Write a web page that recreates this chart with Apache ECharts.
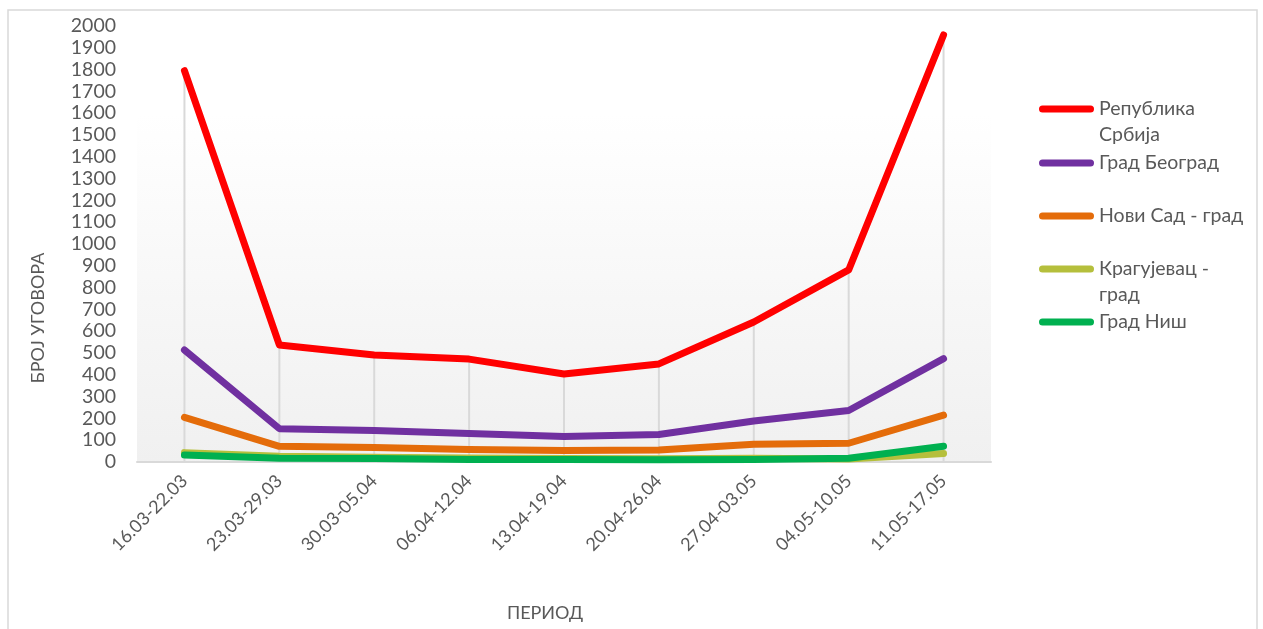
<!DOCTYPE html>
<html>
<head>
<meta charset="utf-8">
<script src="https://cdn.jsdelivr.net/npm/echarts@6/dist/echarts.min.js"></script>
<style>
  html, body { margin: 0; padding: 0; background: #fff; }
  #chart { width: 1263px; height: 629px; }
</style>
</head>
<body>
<div id="chart"></div>
<script>
const periods = ['16.03-22.03', '23.03-29.03', '30.03-05.04', '06.04-12.04', '13.04-19.04',
  '20.04-26.04', '27.04-03.05', '04.05-10.05', '11.05-17.05']
const srbija = [1795, 537, 491, 472, 404, 450, 642, 881, 1959]
const beograd = [514, 153, 144, 131, 117, 126, 188, 236, 474]
const noviSad = [205, 72, 66, 57, 53, 55, 81, 86, 215]
const kragujevac = [43, 26, 22, 18, 16, 15, 17, 14, 39]
const nis = [32, 17, 16, 11, 11, 10, 11, 17, 72]
const names = ['Република Србија', 'Град Београд', 'Нови Сад - град', 'Крагујевац - град', 'Град Ниш']
const legendLabels = ['Република\nСрбија', 'Град Београд', 'Нови Сад - град', 'Крагујевац -\nград', 'Град Ниш']
const colors = ['#ff0000', '#7030a0', '#e46c0a', '#b5bf3c', '#00b050']

const font = 'Lato'
const textColor = '#595959'
const values = [srbija, beograd, noviSad, kragujevac, nis]

// icon centre y for each legend row
const legendRows = [109, 163, 216, 269, 322]
const capsule = 'path://M3.5,0 L51.5,0 A3.5,3.5 0 0 1 51.5,7 L3.5,7 A3.5,3.5 0 0 1 3.5,0 Z'
const legends = names.map((name, i) => {
  const twoLines = legendLabels[i].indexOf('\n') >= 0
  return {
    orient: 'vertical',
    left: 1039,
    top: legendRows[i] - (twoLines ? 39 : 13),
    padding: 0,
    itemWidth: 55,
    itemHeight: 7,
    icon: capsule,
    itemStyle: { borderWidth: 0 },
    data: [name],
    // an empty first line keeps the icon level with the first text line
    formatter: () => (twoLines ? '\u00a0\n' : '') + legendLabels[i],
    textStyle: {
      fontFamily: font,
      fontSize: 19.5,
      color: textColor,
      lineHeight: 26
    }
  }
})

const lineSeries = names.map((name, i) => ({
  name: name,
  type: 'line',
  data: values[i],
  symbol: 'none',
  z: 3 + i,
  lineStyle: { width: 7, color: colors[i], cap: 'round', join: 'round' },
  itemStyle: { color: colors[i] }
}))

const chart = echarts.init(document.getElementById('chart'))
const option = {
  animation: false,
  legend: legends,
  graphic: [{
    type: 'rect',
    shape: { x: 8, y: 10, width: 1249, height: 640 },
    style: { fill: 'none', stroke: '#d9d9d9', lineWidth: 1.5 },
    silent: true
  }],
  grid: {
    left: 137,
    right: 272,
    top: 26,
    bottom: 167,
    show: true,
    borderWidth: 0,
    backgroundColor: new echarts.graphic.LinearGradient(0, 0, 0, 1, [
      { offset: 0, color: '#ffffff' },
      { offset: 0.2, color: '#ffffff' },
      { offset: 1, color: '#f0f0f0' }
    ])
  },
  xAxis: {
    type: 'category',
    data: periods,
    boundaryGap: true,
    name: 'ПЕРИОД',
    nameLocation: 'middle',
    nameGap: 142,
    nameTextStyle: { fontFamily: font, fontSize: 18, color: textColor, padding: [0, 38, 0, 0] },
    axisLine: { lineStyle: { color: '#d9d9d9', width: 2 } },
    axisTick: { show: false },
    axisLabel: {
      rotate: 45,
      margin: 16,
      fontFamily: font,
      fontSize: 18,
      color: textColor,
      interval: 0
    },
    splitLine: { show: false }
  },
  yAxis: {
    type: 'value',
    min: 0,
    max: 2000,
    interval: 100,
    name: 'БРОЈ УГОВОРА',
    nameLocation: 'middle',
    nameGap: 90,
    nameRotate: 90,
    nameTextStyle: { fontFamily: font, fontSize: 18, color: textColor, padding: [0, 148, 0, 0] },
    axisLine: { show: false },
    axisTick: { show: false },
    splitLine: { show: false },
    axisLabel: {
      margin: 21,
      fontFamily: font,
      fontSize: 19.5,
      color: textColor,
      formatter: v => String(v)
    }
  },
  series: [{
    // drop lines from the top series down to the axis
    name: 'drop',
    type: 'bar',
    data: srbija,
    barWidth: 2,
    z: 1,
    silent: true,
    itemStyle: { color: '#d9d9d9' }
  }].concat(lineSeries)
}
chart.setOption(option)
window.addEventListener('resize', () => chart.resize())
</script>
</body>
</html>
